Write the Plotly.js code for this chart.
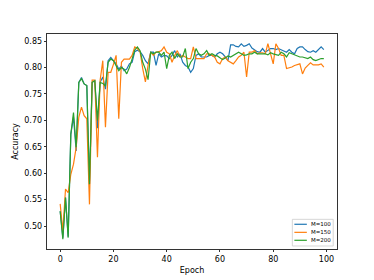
<!DOCTYPE html>
<html>
<head>
<meta charset="utf-8">
<script src="https://cdn.plot.ly/plotly-3.0.1.min.js"></script>
<style>html,body{margin:0;padding:0;background:#fff;}#chart{width:374px;height:280px;}</style>
</head>
<body>
<div id="chart"></div>
<script>
const epochs = Array.from({length: 100}, (_, i) => i);
const seriesNames = ["M=100", "M=150", "M=200"];
const accM100 = [
0.528,0.478,0.554,0.480,0.674,0.706,0.642,0.772,0.781,0.769,
0.766,0.579,0.772,0.775,0.685,0.772,0.782,0.759,0.813,0.819,
0.813,0.807,0.797,0.803,0.794,0.797,0.807,0.810,0.830,0.833,
0.830,0.823,0.813,0.807,0.829,0.829,0.804,0.826,0.820,0.823,
0.822,0.817,0.823,0.832,0.820,0.826,0.810,0.804,0.801,0.791,
0.798,0.823,0.826,0.820,0.820,0.820,0.823,0.823,0.820,0.826,
0.829,0.826,0.820,0.813,0.843,0.843,0.840,0.839,0.845,0.840,
0.842,0.845,0.837,0.834,0.830,0.829,0.836,0.829,0.832,0.836,
0.836,0.834,0.836,0.834,0.832,0.829,0.834,0.829,0.826,0.836,
0.839,0.839,0.834,0.830,0.829,0.832,0.829,0.834,0.839,0.834];
const accM150 = [
0.542,0.490,0.570,0.563,0.598,0.617,0.649,0.706,0.725,0.709,
0.703,0.541,0.776,0.776,0.630,0.776,0.813,0.687,0.791,0.791,
0.806,0.823,0.703,0.810,0.816,0.816,0.816,0.823,0.839,0.836,
0.830,0.798,0.773,0.804,0.829,0.823,0.829,0.830,0.832,0.839,
0.829,0.826,0.810,0.823,0.832,0.820,0.823,0.820,0.817,0.817,
0.839,0.817,0.817,0.817,0.817,0.826,0.826,0.823,0.820,0.810,
0.807,0.817,0.820,0.813,0.810,0.807,0.813,0.820,0.823,0.829,
0.782,0.829,0.829,0.832,0.826,0.828,0.828,0.826,0.845,0.823,
0.807,0.845,0.836,0.823,0.823,0.798,0.799,0.801,0.804,0.805,
0.807,0.788,0.799,0.804,0.809,0.805,0.805,0.805,0.807,0.801];
const accM200 = [
0.528,0.475,0.554,0.478,0.674,0.715,0.649,0.772,0.779,0.769,
0.766,0.579,0.772,0.775,0.700,0.772,0.770,0.765,0.810,0.816,
0.813,0.803,0.794,0.800,0.797,0.788,0.800,0.816,0.833,0.839,
0.832,0.810,0.797,0.777,0.829,0.826,0.829,0.829,0.823,0.829,
0.798,0.823,0.829,0.817,0.826,0.820,0.820,0.836,0.798,0.810,
0.817,0.836,0.826,0.823,0.826,0.832,0.823,0.826,0.823,0.822,
0.818,0.815,0.818,0.822,0.820,0.823,0.826,0.829,0.826,0.823,
0.824,0.826,0.826,0.829,0.826,0.826,0.826,0.826,0.824,0.828,
0.826,0.824,0.823,0.829,0.826,0.820,0.828,0.826,0.824,0.822,
0.820,0.820,0.818,0.817,0.820,0.815,0.813,0.815,0.817,0.817];
const xTicks = [0, 20, 40, 60, 80, 100];
const yTicks = [0.50, 0.55, 0.60, 0.65, 0.70, 0.75, 0.80, 0.85];
const colors = ["#1f77b4", "#ff7f0e", "#2ca02c"];
const allSeries = [accM100, accM150, accM200];

const traces = allSeries.map((ys, i) => ({
  x: epochs, y: ys, type: "scatter", mode: "lines", name: seriesNames[i],
  line: {color: colors[i], width: 1.2}, showlegend: false
}));

// Compact matplotlib-style legend (lower right), in paper coordinates
const legBox = {x0: 0.846, x1: 0.987, y0: 0.014, y1: 0.138};
const legRows = [0.115, 0.0775, 0.0405];
const shapes = [{
  type: "rect", xref: "paper", yref: "paper",
  x0: legBox.x0, x1: legBox.x1, y0: legBox.y0, y1: legBox.y1,
  line: {color: "#cccccc", width: 0.8}, fillcolor: "rgba(255,255,255,0.8)", layer: "above"
}];
const annotations = [];
seriesNames.forEach((nm, i) => {
  shapes.push({type: "line", xref: "paper", yref: "paper",
    x0: 0.853, x1: 0.896, y0: legRows[i], y1: legRows[i],
    line: {color: colors[i], width: 1.2}, layer: "above"});
  annotations.push({xref: "paper", yref: "paper", x: 0.905, y: legRows[i],
    xanchor: "left", yanchor: "middle", showarrow: false, text: nm,
    font: {family: "DejaVu Sans", size: 5.5, color: "#000"}});
});

const axisCommon = {
  showgrid: false, zeroline: false, showline: true, mirror: true,
  linecolor: "#000", linewidth: 0.8, ticks: "outside", ticklen: 2.5,
  tickwidth: 0.8, tickcolor: "#000",
  tickfont: {family: "DejaVu Sans", size: 8, color: "#000"}
};

const layout = {
  width: 374, height: 280,
  margin: {l: 47, r: 37, t: 34, b: 31, pad: 0},
  paper_bgcolor: "#fff", plot_bgcolor: "#fff",
  font: {family: "DejaVu Sans", color: "#000"},
  showlegend: false,
  shapes: shapes,
  annotations: annotations,
  xaxis: Object.assign({}, axisCommon, {
    range: [-4.95, 103.95], tickvals: xTicks, ticktext: xTicks.map(String),
    title: {text: "Epoch", font: {family: "DejaVu Sans", size: 8}, standoff: 4}
  }),
  yaxis: Object.assign({}, axisCommon, {
    range: [0.4565, 0.8635], tickvals: yTicks, ticktext: yTicks.map(v => v.toFixed(2)),
    title: {text: "Accuracy", font: {family: "DejaVu Sans", size: 8}, standoff: 4}
  })
};

Plotly.newPlot("chart", traces, layout, {displayModeBar: false, staticPlot: true});
</script>
</body>
</html>
